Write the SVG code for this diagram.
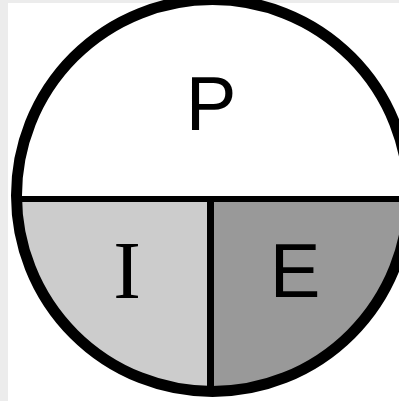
<svg xmlns="http://www.w3.org/2000/svg" width="399" height="401" viewBox="0 0 399 401">
<style>
.lbl{font-family:"Liberation Sans",Arial,sans-serif;font-size:76px;fill:#000;text-anchor:middle}
.div{stroke:#000;fill:none}
</style>
<defs>
<clipPath id="c"><circle cx="212.5" cy="195.5" r="196"/></clipPath>
</defs>
<rect width="399" height="401" fill="#ffffff"/>
<rect x="0" y="0" width="8" height="401" fill="#ececec"/>
<rect x="0" y="0" width="399" height="3" fill="#ececec"/>
<g id="sectors" clip-path="url(#c)">
<g id="node-P"><rect x="0" y="-10" width="420" height="209" fill="#ffffff"/></g>
<g id="node-I"><rect x="0" y="199" width="210.5" height="210" fill="#cccccc"/></g>
<g id="node-E"><rect x="210.5" y="199" width="210" height="210" fill="#999999"/></g>
</g>
<g id="connectors">
<line class="div" x1="0" y1="199" x2="420" y2="199" stroke-width="6" clip-path="url(#c)"/>
<line class="div" x1="210.5" y1="199" x2="210.5" y2="410" stroke-width="7" clip-path="url(#c)"/>
</g>
<circle cx="212.5" cy="195.5" r="196" fill="none" stroke="#000" stroke-width="11"/>
<text class="lbl" x="211" y="130">P</text>
<text class="lbl" x="127" y="298" style="font-family:'Liberation Serif','Times New Roman',serif;font-size:83px">I</text>
<text class="lbl" x="295" y="297">E</text>
</svg>
